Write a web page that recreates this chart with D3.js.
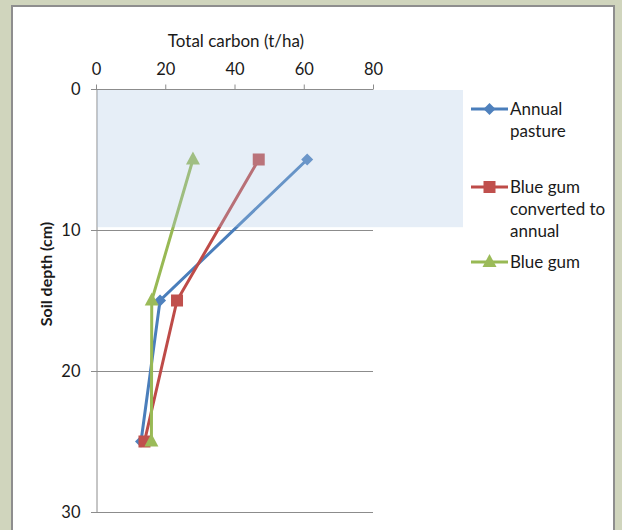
<!DOCTYPE html>
<html><head><meta charset="utf-8">
<script src="https://cdn.jsdelivr.net/npm/d3@7"></script>
<style>body{margin:0;background:#d0d5bd;}svg{display:block;}text{font-family:Lato,"Open Sans",sans-serif;fill:#1a1a1a;}</style>
</head><body>
<svg id="c" width="622" height="530"></svg>
<script>
const depths = [5, 15, 25];
const annualPasture = [61, 18.5, 13];
const blueGumConverted = [47, 23.4, 14];
const blueGum = [28, 16.1, 16];
const xTicks = [0, 20, 40, 60, 80];
const yTicks = [0, 10, 20, 30];
const seriesNames = [["Annual", "pasture"], ["Blue gum", "converted to", "annual"], ["Blue gum"]];
const lineColors = ["#4a7ebb", "#be4b48", "#98b954"];
const markerColors = ["#4f81bd", "#c0504d", "#9bbb59"];
const shadeDepth = [0, 9.8];

const svg = d3.select("#c");
svg.append("rect").attr("x", 12).attr("y", 6).attr("width", 602).attr("height", 540)
  .attr("fill", "#fff").attr("stroke", "#8e8e8e").attr("stroke-width", 2);

const x = d3.scaleLinear().domain([0, 80]).range([96, 373]);
const y = d3.scaleLinear().domain([0, 30]).range([89, 512]);

// gridlines
svg.append("g").selectAll("line").data(yTicks.slice(1)).join("line")
  .attr("x1", 91).attr("x2", 373).attr("y1", d => y(d) + 0.5).attr("y2", d => y(d) + 0.5)
  .attr("stroke", "#8c8c8c").attr("stroke-width", 1);

// top axis
const gx = svg.append("g").attr("transform", `translate(0,${y(0) + 0.5})`)
  .call(d3.axisTop(x).tickValues(xTicks).tickSize(5).tickPadding(10).tickSizeOuter(0));
gx.select(".domain").attr("stroke", "#8c8c8c").attr("d", `M91,0H373`);
gx.selectAll(".tick line").attr("stroke", "#8c8c8c");
gx.selectAll(".tick text").style("font-size", "16.5px").attr("fill", "#1a1a1a").style("font-family", "Lato");

// left axis
const gy = svg.append("g").attr("transform", `translate(${x(0) + 0.5},0)`)
  .call(d3.axisLeft(y).tickValues(yTicks).tickSize(5).tickPadding(11).tickSizeOuter(0));
gy.select(".domain").attr("stroke", "#8c8c8c");
gy.selectAll(".tick line").attr("stroke", "#8c8c8c");
gy.selectAll(".tick text").style("font-size", "16.5px").attr("fill", "#1a1a1a").style("font-family", "Lato");

svg.append("text").attr("x", 236).attr("y", 47).attr("text-anchor", "middle")
  .style("font-size", "17px").text("Total carbon (t/ha)");
svg.append("text").attr("transform", "translate(52,274) rotate(-90)").attr("text-anchor", "middle")
  .style("font-size", "16px").style("font-weight", "bold").text("Soil depth (cm)");

const all = [annualPasture, blueGumConverted, blueGum];
const line = d3.line().x(d => x(d[0])).y(d => y(d[1]));

function marker(g, i, cx, cy) {
  if (i === 0) {
    g.append("path").attr("d", `M${cx},${cy-6}L${cx+6},${cy}L${cx},${cy+6}L${cx-6},${cy}Z`).attr("fill", markerColors[i]);
  } else if (i === 1) {
    g.append("rect").attr("x", cx-6).attr("y", cy-6).attr("width", 12).attr("height", 12).attr("fill", markerColors[i]);
  } else {
    g.append("path").attr("d", `M${cx},${cy-8}L${cx+7},${cy+5}L${cx-7},${cy+5}Z`).attr("fill", markerColors[i]);
  }
}

all.forEach((vals, i) => {
  const pts = vals.map((v, k) => [v, depths[k]]);
  svg.append("path").attr("d", line(pts)).attr("fill", "none")
    .attr("stroke", lineColors[i]).attr("stroke-width", 3);
});
all.forEach((vals, i) => {
  const g = svg.append("g");
  vals.forEach((v, k) => marker(g, i, x(v), y(depths[k])));
});

// shaded overlay
svg.append("rect").attr("x", x(0) + 1).attr("y", y(shadeDepth[0]) + 1)
  .attr("width", 463 - x(0) - 1).attr("height", y(shadeDepth[1]) - y(shadeDepth[0]) - 1)
  .attr("fill", "rgb(172,198,228)").attr("fill-opacity", 0.3);

// legend
const legY = [109, 187, 262];
seriesNames.forEach((names, i) => {
  const g = svg.append("g");
  g.append("line").attr("x1", 471).attr("x2", 508).attr("y1", legY[i]).attr("y2", legY[i])
    .attr("stroke", lineColors[i]).attr("stroke-width", 3);
  marker(g, i, 489.5, legY[i]);
  names.forEach((t, k) => {
    g.append("text").attr("x", 510).attr("y", legY[i] + k * 22).attr("dy", "0.35em")
      .style("font-size", "17px").text(t);
  });
});
</script>
</body></html>
